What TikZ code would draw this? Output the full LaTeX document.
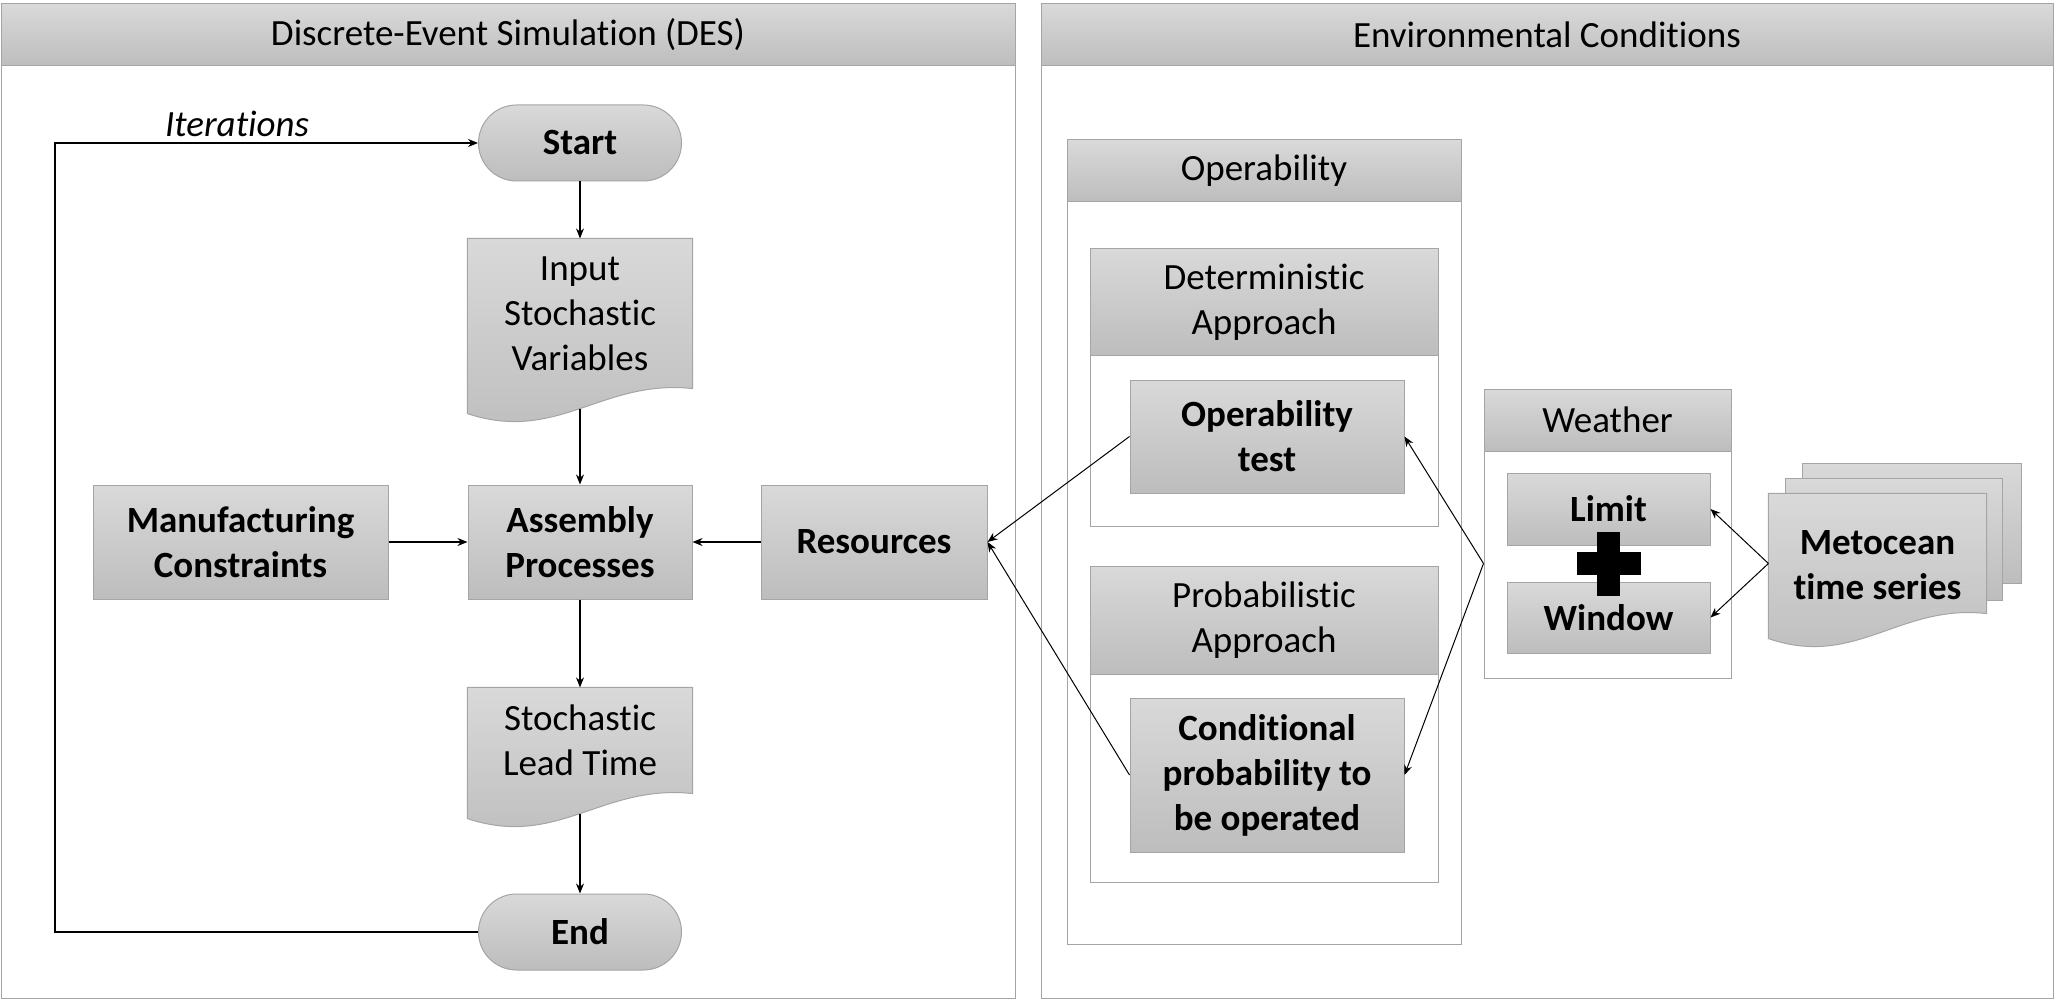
\documentclass[tikz,border=0pt]{standalone}
\usepackage{fontspec}
\setmainfont{Carlito}[RawFeature={-liga;-clig;-dlig;-calt}]
\usetikzlibrary{arrows.meta,positioning,backgrounds,calc}
\definecolor{shtop}{HTML}{D9D9D9}
\definecolor{shbot}{HTML}{BDBDBD}
\definecolor{edgegray}{HTML}{A5A5A5}

% wavy "document" outline round a text node (optional lift)
\newcommand{\docshape}[2][0pt]{%
  \path[sheet] ([yshift=#1]#2.north west) -- ([yshift=#1]#2.north east) -- ([yshift=#1]#2.south east)
    .. controls ($(#2.south west)!0.6!(#2.south east)+(0,5pt+#1)$)
    and ($(#2.south west)!0.4!(#2.south east)+(0,-27.5pt+#1)$)
    .. ([yshift=-12.5pt+#1]#2.south west) -- cycle;}

\begin{document}
\begin{tikzpicture}[x=0.5pt, y=-0.5pt, >={Stealth[length=5pt,width=4pt]},
    line width=0.6pt, font=\fontsize{18.5}{22.5}\selectfont,
    sheet/.style={draw=edgegray, line width=0.5pt, top color=shtop, bottom color=shbot},
    b/.style={sheet, align=center, inner sep=2pt, font=\fontsize{18.5}{22.5}\selectfont\bfseries},
    term/.style={b, rounded corners=19pt, minimum width=101.5pt, minimum height=38pt},
    hd/.style={sheet, align=center, inner sep=0pt},
    doc/.style={align=center, inner sep=2pt},
    pane/.style={draw=edgegray, line width=0.5pt}]
  \useasboundingbox (0,0) rectangle (2056,1000);

  % two panels
  \draw[pane] (1,4) rectangle (1015,998);
  \draw[pane] (1041,4) rectangle (2053,998);
  \node[hd, minimum width=507pt, minimum height=31pt] (destitle) at (508,35) {Discrete-Event Simulation (DES)};
  \node[hd, minimum width=506pt, minimum height=31pt] (envtitle) at (1547,35) {Environmental Conditions};

  % DES flow
  \node[term] (start) at (580,143) {Start};
  \node[doc, minimum width=112pt, minimum height=74.5pt] (inp) at (580,313.5) {Input\\Stochastic\\Variables};
  \node[b, minimum width=112pt, minimum height=57pt] (asm) at (580,542) {Assembly\\Processes};
  \node[b, minimum width=147.5pt, minimum height=57pt, left=39.5pt of asm] (man) {Manufacturing\\Constraints};
  \node[b, minimum width=113pt, minimum height=57pt, right=34pt of asm] (res) {Resources};
  \node[doc, minimum width=112pt, minimum height=52.5pt] (lead) at (580,740.5) {Stochastic\\Lead Time};
  \node[term] (end) at (580,932) {End};
  \node[font=\fontsize{18.5}{22.5}\selectfont\itshape] (iter) at (237,124) {Iterations};
  \coordinate (back) at (55,0);

  % operability
  \draw[pane] (1067,140) rectangle (1461,944);
  \node[hd, minimum width=197pt, minimum height=31pt] (optitle) at (1264,171) {Operability};
  \draw[pane] (1090,249) rectangle (1438,526);
  \node[hd, minimum width=174pt, minimum height=53pt] (dettitle) at (1264,302) {Deterministic\\Approach};
  \node[b, minimum width=137pt, minimum height=56.5pt] (optest) at (1267,436.5) {Operability\\test};
  \draw[pane] (1090,566) rectangle (1438,882);
  \node[hd, minimum width=174pt, minimum height=54pt] (probtitle) at (1264,620) {Probabilistic\\Approach};
  \node[b, minimum width=137pt, minimum height=77pt] (cond) at (1267,775) {Conditional\\probability to\\be operated};

  % weather
  \draw[pane] (1484,389) rectangle (1731,678);
  \node[hd, minimum width=123.5pt, minimum height=31pt] (wtitle) at (1607.5,420) {Weather};
  \node[b, minimum width=101.5pt, minimum height=36pt] (lim) at (1608.5,509) {Limit};
  \node[b, minimum width=101.5pt, minimum height=35.5pt] (win) at (1608.5,617.5) {Window};
  \coordinate (plus) at ($(lim.south)!0.5!(win.north)$);
  \fill (plus) +(-11.5,-32) rectangle +(11.5,32);
  \fill (plus) +(-32,-11.5) rectangle +(32,11.5);
  \node[doc, minimum width=108.5pt, minimum height=59.5pt, font=\fontsize{18.5}{22.5}\selectfont\bfseries] (met) at (1877.5,565.5) {Metocean\\time series};

  \begin{scope}[on background layer]
    \docshape{inp}
    \docshape{lead}
    \path[sheet] ([shift={(17pt,21pt)}]met.north west) rectangle ([shift={(17.5pt,21pt)}]met.south east);
    \path[sheet] ([shift={(8.5pt,13.5pt)}]met.north west) rectangle ([shift={(8pt,12.5pt)}]met.south east);
    \docshape[6pt]{met}
  \end{scope}

  % connectors
  \draw[->] (start) -- (inp);
  \draw[->] ([yshift=-10pt]inp.south) -- (asm);
  \draw[->] (man) -- (asm);
  \draw[->] (res) -- (asm);
  \draw[->] (asm) -- (lead);
  \draw[->] ([yshift=-10pt]lead.south) -- (end);
  \draw[->] (end.west) -- (end.west -| back) -- (start.west -| back) -- (start.west);
  \draw[->, line width=0.5pt] (optest.west) -- (res.east);
  \draw[->, line width=0.5pt] (cond.west) -- (res.east);
  \draw[->, line width=0.5pt] (wtitle.west |- plus) -- (optest.east);
  \draw[->, line width=0.5pt] (wtitle.west |- plus) -- (cond.east);
  \draw[->, line width=0.5pt] (met.west |- plus) -- (lim.east);
  \draw[->, line width=0.5pt] (met.west |- plus) -- (win.east);
\end{tikzpicture}
\end{document}
